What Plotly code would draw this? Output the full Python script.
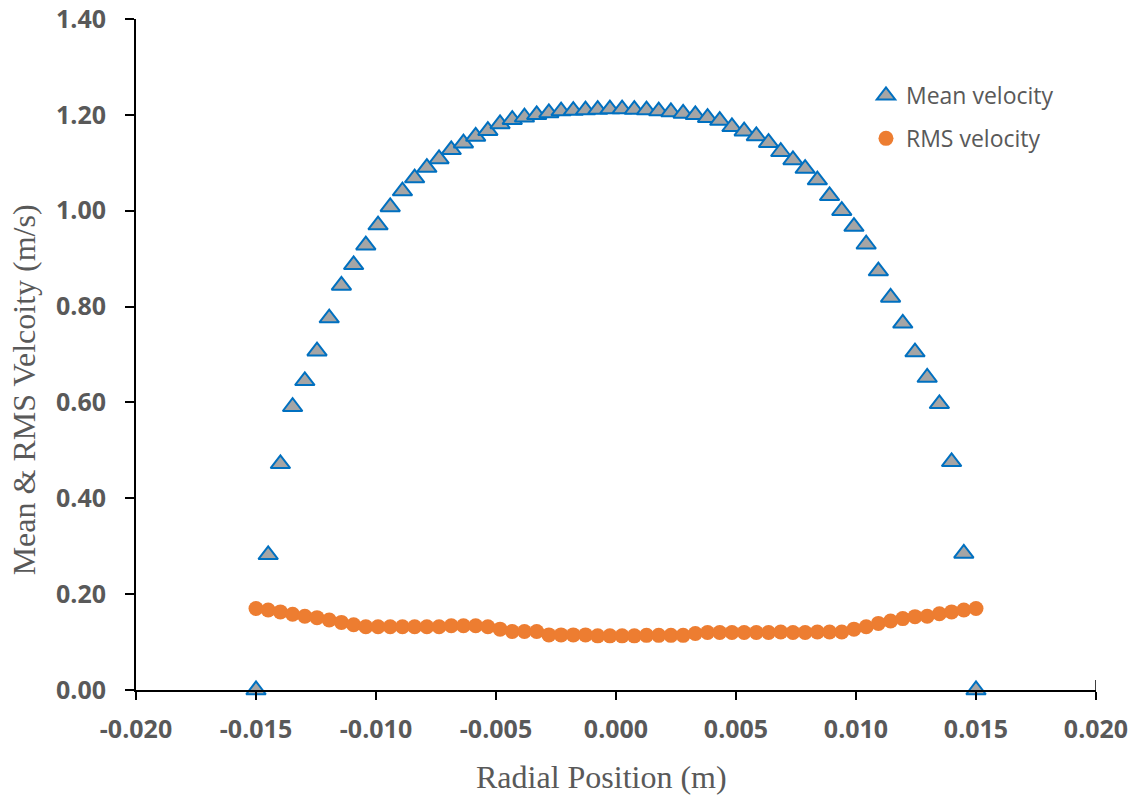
import plotly.graph_objects as go

radial_position = [
    -0.015000, -0.014492, -0.013983, -0.013475, -0.012966, -0.012458, -0.011949, -0.011441,
    -0.010932, -0.010424, -0.009915, -0.009407, -0.008898, -0.008390, -0.007881, -0.007373,
    -0.006864, -0.006356, -0.005847, -0.005339, -0.004831, -0.004322, -0.003814, -0.003305,
    -0.002797, -0.002288, -0.001780, -0.001271, -0.000763, -0.000254,
    0.000254, 0.000763, 0.001271, 0.001780, 0.002288, 0.002797, 0.003305, 0.003814,
    0.004322, 0.004831, 0.005339, 0.005847, 0.006356, 0.006864, 0.007373, 0.007881,
    0.008390, 0.008898, 0.009407, 0.009915, 0.010424, 0.010932, 0.011441, 0.011949,
    0.012458, 0.012966, 0.013475, 0.013983, 0.014492, 0.015000,
]

mean_velocity = [
    0.000, 0.282, 0.472, 0.591, 0.645, 0.707, 0.776, 0.844, 0.887, 0.928,
    0.970, 1.008, 1.041, 1.068, 1.090, 1.108, 1.127, 1.141, 1.155, 1.167,
    1.181, 1.190, 1.195, 1.200, 1.204, 1.208, 1.209, 1.210, 1.211, 1.212,
    1.212, 1.211, 1.210, 1.208, 1.206, 1.203, 1.200, 1.194, 1.188, 1.175,
    1.166, 1.156, 1.142, 1.123, 1.106, 1.088, 1.064, 1.031, 1.000, 0.967,
    0.930, 0.874, 0.819, 0.765, 0.705, 0.652, 0.597, 0.476, 0.285, 0.000,
]

rms_velocity = [
    0.170, 0.167, 0.163, 0.158, 0.154, 0.151, 0.146, 0.141, 0.136, 0.132,
    0.132, 0.132, 0.132, 0.132, 0.132, 0.132, 0.134, 0.134, 0.134, 0.132,
    0.127, 0.122, 0.122, 0.122, 0.115, 0.115, 0.115, 0.115, 0.113, 0.113,
    0.113, 0.113, 0.114, 0.114, 0.114, 0.114, 0.118, 0.120, 0.120, 0.120,
    0.120, 0.120, 0.120, 0.121, 0.120, 0.120, 0.121, 0.121, 0.121, 0.127,
    0.132, 0.139, 0.144, 0.149, 0.153, 0.154, 0.159, 0.163, 0.167, 0.170,
]

x_tick_values = [-0.020, -0.015, -0.010, -0.005, 0.000, 0.005, 0.010, 0.015, 0.020]
x_tick_labels = ["-0.020", "-0.015", "-0.010", "-0.005", "0.000", "0.005", "0.010", "0.015", "0.020"]
y_tick_values = [0.0, 0.2, 0.4, 0.6, 0.8, 1.0, 1.2, 1.4]
y_tick_labels = ["0.00", "0.20", "0.40", "0.60", "0.80", "1.00", "1.20", "1.40"]

GRAY = "#595959"

fig = go.Figure()
fig.add_trace(go.Scatter(
    x=radial_position, y=mean_velocity, mode="markers", name="Mean velocity",
    legendgroup="a", cliponaxis=False,
    marker=dict(symbol="triangle-up", size=17, color="#A5A5A5",
                line=dict(color="#0070C0", width=2)),
))
fig.add_trace(go.Scatter(
    x=radial_position, y=rms_velocity, mode="markers", name="RMS velocity",
    legendgroup="b", cliponaxis=False,
    marker=dict(symbol="circle", size=15, color="#ED7D31", line=dict(width=0)),
))

fig.update_layout(
    autosize=True,
    margin=dict(l=136, r=40, t=19, b=108, pad=0),
    paper_bgcolor="white", plot_bgcolor="white",
    showlegend=True,
    legend=dict(x=0.7604, xanchor="left", y=0.918, yanchor="top",
                font=dict(family="Open Sans", size=23, color=GRAY),
                bgcolor="rgba(0,0,0,0)", tracegroupgap=10, traceorder="grouped",
                itemwidth=30),
    xaxis=dict(range=[-0.020, 0.020], tickvals=x_tick_values, ticktext=x_tick_labels,
               showgrid=False, zeroline=False, showline=True, linecolor="black", linewidth=2,
               ticks="outside", ticklen=8, tickwidth=1.5, tickcolor="black",
               tickfont=dict(family="Open Sans", size=25, color=GRAY, weight="bold"),
               ticklabelstandoff=8, automargin=False),
    yaxis=dict(range=[0, 1.40], tickvals=y_tick_values, ticktext=y_tick_labels,
               showgrid=False, zeroline=False, showline=True, linecolor="black", linewidth=2,
               ticks="outside", ticklen=9, tickwidth=1.5, tickcolor="black",
               tickfont=dict(family="Open Sans", size=25, color=GRAY, weight="bold"),
               ticklabelstandoff=14, automargin=False),
    shapes=[
        dict(type="line", xref="x", x0=0.020, x1=0.020, yref="paper", ysizemode="pixel",
             yanchor=0, y0=0, y1=10, line=dict(color="black", width=1.5)),
    ],
    annotations=[
        dict(text="Radial Position (m)", xref="paper", yref="paper", x=0.4851, y=-0.1295,
             xanchor="center", yanchor="middle", showarrow=False,
             font=dict(family="Liberation Serif", size=32, color=GRAY)),
        dict(text="Mean & RMS Velcoity (m/s)", xref="paper", yref="paper", x=-0.1167, y=0.448,
             xanchor="center", yanchor="middle", showarrow=False, textangle=-90,
             font=dict(family="Liberation Serif", size=32, color=GRAY)),
    ],
)

fig.write_html("out.html", config={"responsive": True})
